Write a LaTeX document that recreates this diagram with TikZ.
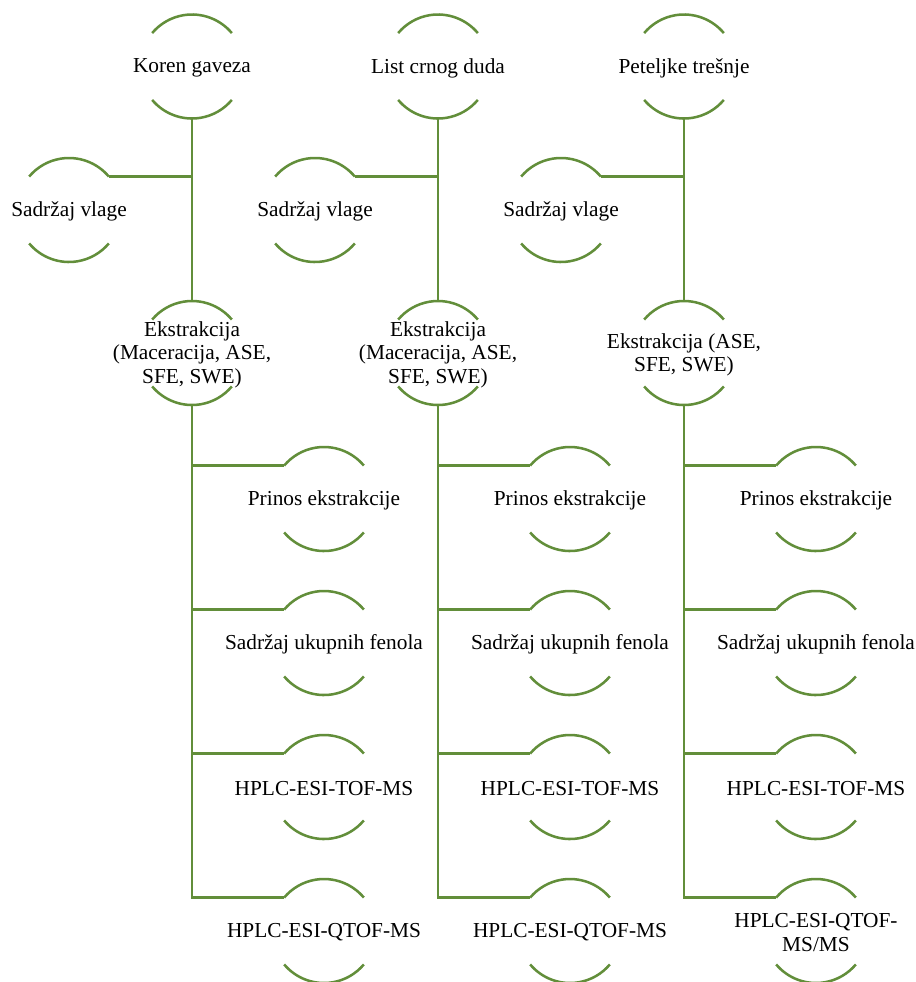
\documentclass[tikz,border=0pt]{standalone}
\usepackage{fontspec}
\setmainfont{Liberation Serif}
\definecolor{branch}{RGB}{98,142,58}
\begin{document}
\begin{tikzpicture}[x=0.75pt,y=0.75pt,
  spot/.style={circle,minimum size=78pt,inner sep=0pt,outer sep=0pt},
  lbl/.style={font=\fontsize{16}{17.6}\selectfont,align=center,inner sep=0pt,yshift=-1.2pt},
  rim/.style={draw=branch,line width=1.9pt},
  link/.style={draw=branch,line width=1.9pt}]
\useasboundingbox (0,0) rectangle (915,-982);

% circular slots: one sample column per x position
\foreach \c/\x in {1/192,2/438,3/684}{
  \node[spot] (top\c) at (\x,-66.5) {};
  \node[spot] (mo\c)  at (\x-123,-210) {};
  \node[spot] (ex\c)  at (\x,-353) {};
  \node[spot] (r\c a) at (\x+132,-499) {};
  \node[spot] (r\c b) at (\x+132,-643) {};
  \node[spot] (r\c c) at (\x+132,-787) {};
  \node[spot] (r\c d) at (\x+132,-931) {};
}

% labels
\node[lbl] (top1-t) at (top1) {Koren gaveza};
\node[lbl] (top2-t) at (top2) {List crnog duda};
\node[lbl] (top3-t) at (top3) {Peteljke trešnje};
\foreach \c in {1,2,3}{
  \node[lbl] (mo\c-t) at (mo\c) {Sadržaj vlage};
  \node[lbl] (r\c a-t) at (r\c a) {Prinos ekstrakcije};
  \node[lbl] (r\c b-t) at (r\c b) {Sadržaj ukupnih fenola};
  \node[lbl] (r\c c-t) at (r\c c) {HPLC-ESI-TOF-MS};
}
\node[lbl] (ex1-t) at (ex1) {Ekstrakcija\\(Maceracija, ASE,\\SFE, SWE)};
\node[lbl] (ex2-t) at (ex2) {Ekstrakcija\\(Maceracija, ASE,\\SFE, SWE)};
\node[lbl] (ex3-t) at (ex3) {Ekstrakcija (ASE,\\SFE, SWE)};
\node[lbl] (r1d-t) at (r1d) {HPLC-ESI-QTOF-MS};
\node[lbl] (r2d-t) at (r2d) {HPLC-ESI-QTOF-MS};
\node[lbl] (r3d-t) at (r3d) {HPLC-ESI-QTOF-\\MS/MS};

% upper and lower rims of every slot
\foreach \n in {top1,top2,top3,mo1,mo2,mo3,ex1,ex2,ex3,
                r1a,r1b,r1c,r1d,r2a,r2b,r2c,r2d,r3a,r3b,r3c,r3d}{
  \draw[rim] (\n.40) arc[start angle=40,end angle=140,radius=39pt];
  \draw[rim] (\n.220) arc[start angle=220,end angle=320,radius=39pt];
}

% connectors
\foreach \c in {1,2,3}{
  \draw[link] (top\c.south) -- (ex\c.north);
  \draw[link] (top\c.south |- mo\c.40) -- (mo\c.40);
  \draw[link] (ex\c.south) |- (r\c d.140);
  \draw[link] (ex\c.south |- r\c a.140) -- (r\c a.140);
  \draw[link] (ex\c.south |- r\c b.140) -- (r\c b.140);
  \draw[link] (ex\c.south |- r\c c.140) -- (r\c c.140);
}
\end{tikzpicture}
\end{document}
